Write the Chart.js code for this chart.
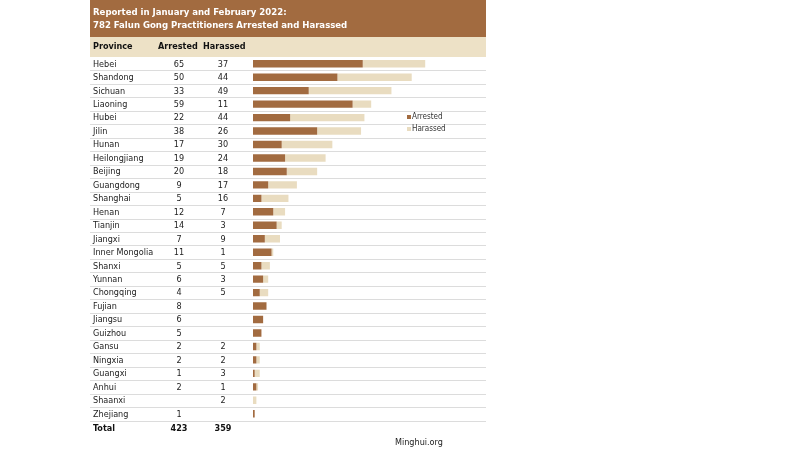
<!DOCTYPE html>
<html>
<head>
<meta charset="utf-8">
<script src="https://cdn.jsdelivr.net/npm/chart.js@4"></script>
<style>
  html, body { margin: 0; padding: 0; background: #fff; }
  #wrap { width: 800px; height: 450px; }
</style>
</head>
<body>
<div id="wrap"><canvas id="chartCanvas" width="800" height="450"></canvas></div>
<script>
// Dados da tabela
const provinces = ['Hebei', 'Shandong', 'Sichuan', 'Liaoning', 'Hubei', 'Jilin', 'Hunan', 'Heilongjiang',
    'Beijing', 'Guangdong', 'Shanghai', 'Henan', 'Tianjin', 'Jiangxi', 'Inner Mongolia', 'Shanxi',
    'Yunnan', 'Chongqing', 'Fujian', 'Jiangsu', 'Guizhou', 'Gansu', 'Ningxia', 'Guangxi', 'Anhui',
    'Shaanxi', 'Zhejiang'];
const arrested = [65, 50, 33, 59, 22, 38, 17, 19, 20, 9, 5, 12, 14, 7, 11, 5, 6, 4, 8, 6, 5, 2, 2, 1, 2, null, 1];
const harassed = [37, 44, 49, 11, 44, 26, 30, 24, 18, 17, 16, 7, 3, 9, 1, 5, 3, 5, null, null, null, 2, 2, 3, 1, 2, null];
const totals = [423, 359];
const titleLines = ['Reported in January and February 2022:', '782 Falun Gong Practitioners Arrested and Harassed'];

const BROWN = '#a26b40';
const BEIGE = '#e9dcc0';
const FONT = '"DejaVu Sans Condensed", "DejaVu Sans", Verdana, sans-serif';
const TABLE_L = 90, TABLE_R = 486;
const COL_ARR = 179, COL_HAR = 223;

// Desenha a tabela em volta das barras
const tablePlugin = {
    id: 'table',
    beforeDraw(chart) {
        const c = chart.ctx;
        c.save();
        c.fillStyle = '#fff';
        c.fillRect(0, 0, chart.width, chart.height);
        // faixa do título
        c.fillStyle = BROWN;
        c.fillRect(TABLE_L, 0, TABLE_R - TABLE_L, 37);
        c.fillStyle = '#fff';
        c.font = 'bold 9.5px ' + FONT;
        c.textBaseline = 'middle';
        c.fillText(titleLines[0], 93, 13);
        c.fillText(titleLines[1], 93, 26);
        // cabeçalho
        c.fillStyle = '#ede1c6';
        c.fillRect(TABLE_L, 37, TABLE_R - TABLE_L, 20);
        c.fillStyle = '#111';
        c.font = 'bold 9px ' + FONT;
        c.textAlign = 'left';
        c.fillText('Province', 93, 47);
        c.fillText('Arrested', 158, 47);
        c.fillText('Harassed', 203, 47);
        // linhas entre as linhas da tabela
        const y = chart.scales.y;
        const step = y.getPixelForValue(1) - y.getPixelForValue(0);
        c.strokeStyle = '#dcdcdc';
        c.lineWidth = 1;
        for (let i = 0; i < provinces.length; i++) {
            const yy = Math.round(y.getPixelForValue(i) + step / 2) + 0.5;
            c.beginPath();
            c.moveTo(TABLE_L, yy);
            c.lineTo(TABLE_R, yy);
            c.stroke();
        }
        c.restore();
    },
    afterDraw(chart) {
        const c = chart.ctx;
        const y = chart.scales.y;
        const step = y.getPixelForValue(1) - y.getPixelForValue(0);
        c.save();
        c.textBaseline = 'middle';
        c.fillStyle = '#222';
        c.font = '9px ' + FONT;
        provinces.forEach((p, i) => {
            const yy = y.getPixelForValue(i) + 0.5;
            c.textAlign = 'left';
            c.fillText(p, 93, yy);
            c.textAlign = 'center';
            if (arrested[i] != null) c.fillText(arrested[i], COL_ARR, yy);
            if (harassed[i] != null) c.fillText(harassed[i], COL_HAR, yy);
        });
        // linha do total
        const ty = y.getPixelForValue(provinces.length - 1) + step + 1;
        c.font = 'bold 9px ' + FONT;
        c.fillStyle = '#111';
        c.textAlign = 'left';
        c.fillText('Total', 93, ty);
        c.textAlign = 'center';
        c.fillText(totals[0], COL_ARR, ty);
        c.fillText(totals[1], COL_HAR, ty);
        // legenda
        c.font = '8px ' + FONT;
        c.textAlign = 'left';
        chart.data.datasets.forEach((ds, k) => {
            const ly = 117 + k * 12;
            c.fillStyle = ds.backgroundColor;
            c.fillRect(407, ly - 2, 4, 4);
            c.fillStyle = '#333';
            c.fillText(ds.label, 412, ly);
        });
        // fonte
        c.font = '9px ' + FONT;
        c.fillStyle = '#222';
        c.fillText('Minghui.org', 395, 443);
        c.restore();
    }
};

const ctx = document.getElementById('chartCanvas').getContext('2d');
const myChart = new Chart(ctx, {
    type: 'bar',
    data: {
        labels: provinces,
        datasets: [
            { label: 'Arrested', data: arrested, backgroundColor: BROWN },
            { label: 'Harassed', data: harassed, backgroundColor: BEIGE }
        ]
    },
    options: {
        indexAxis: 'y',
        responsive: false,
        animation: false,
        events: [],
        layout: { padding: { left: 253, right: 314, top: 57, bottom: 29.5 } },
        datasets: { bar: { barPercentage: 0.55, categoryPercentage: 1 } },
        scales: {
            x: { stacked: true, min: 0, max: 138, display: false },
            y: { stacked: true, display: false }
        },
        plugins: {
            legend: { display: false },
            tooltip: { enabled: false }
        }
    },
    plugins: [tablePlugin]
});
</script>
</body>
</html>
